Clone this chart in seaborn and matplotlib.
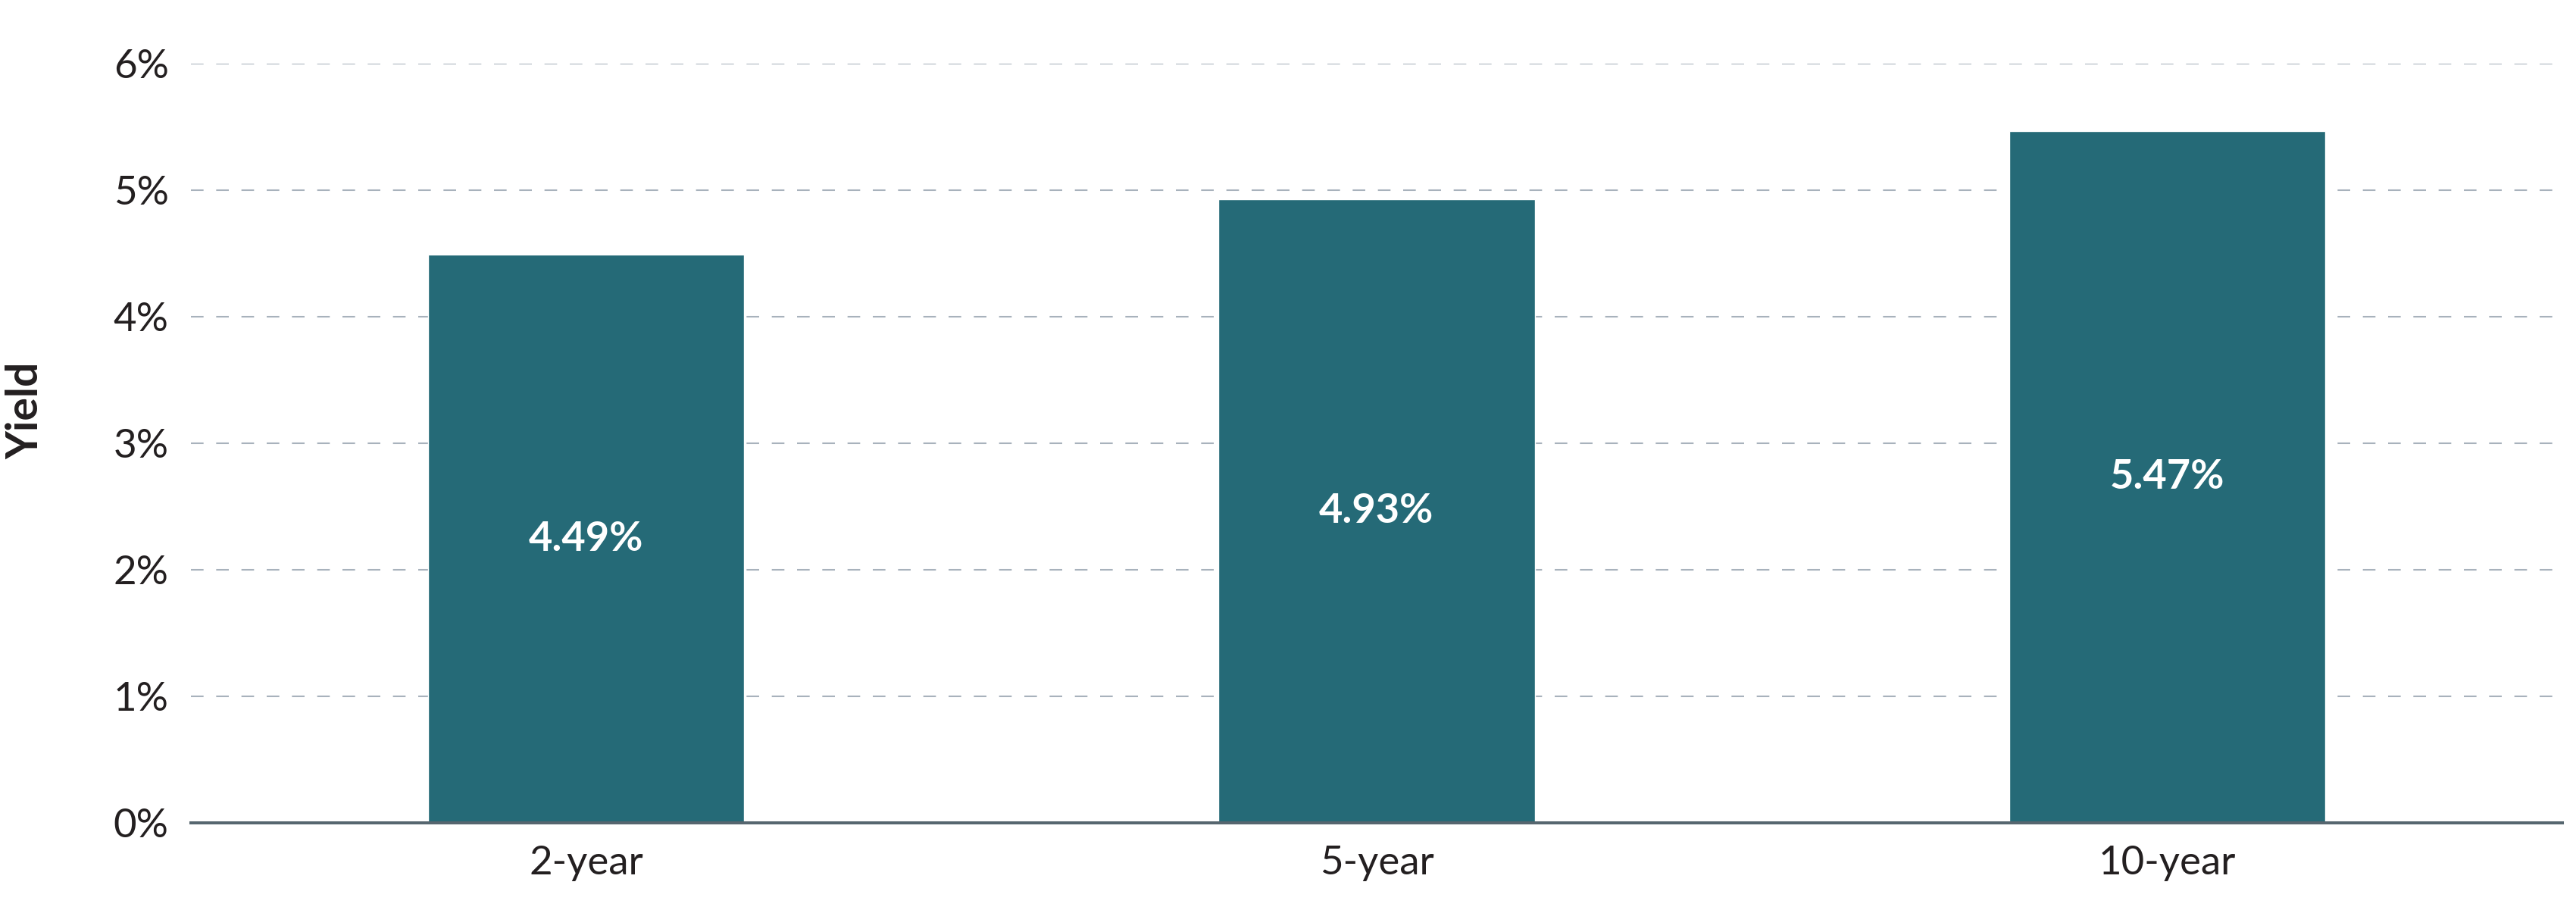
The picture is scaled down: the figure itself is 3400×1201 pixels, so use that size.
import matplotlib
matplotlib.use("Agg")
import matplotlib.pyplot as plt
import seaborn as sns
import pandas as pd

# data
terms = ["2-year", "5-year", "10-year"]
yields = [4.49, 4.93, 5.47]
y_ticks = [0, 1, 2, 3, 4, 5, 6]
y_tick_labels = ["0%", "1%", "2%", "3%", "4%", "5%", "6%"]

bar_color = "#256a77"
grid_color = "#a8b2bc"
text_color = "#231f20"
axis_color = "#56666f"

sns.set_style("white")
plt.rcParams["font.family"] = ["Lato", "DejaVu Sans"]

df = pd.DataFrame({"term": terms, "yield": yields})

fig = plt.figure(figsize=(34, 12.01), dpi=100)
ax = fig.add_axes([0.0741, 0.0958, 0.9206, 0.8342])

sns.barplot(data=df, x="term", y="yield", color=bar_color, saturation=1,
            width=0.4, ax=ax, zorder=3)

ax.bar_label(ax.containers[0], labels=[f"{v:.2f}%" for v in yields],
             label_type="center", color="white", fontsize=39,
             fontweight="bold")

ax.set_xlim(-0.5, 2.5)
ax.set_ylim(0, 6)
ax.set_yticks(y_ticks)
ax.set_yticklabels(y_tick_labels)

ax.grid(axis="y", color=grid_color, linewidth=1.5, linestyle=(0, (8, 8)), zorder=0)
ax.grid(axis="x", visible=False)
ax.set_axisbelow(True)

for side in ["left", "right", "top"]:
    ax.spines[side].set_visible(False)
ax.spines["bottom"].set_color(axis_color)
ax.spines["bottom"].set_linewidth(2.9)
ax.spines["bottom"].set_zorder(4)

ax.tick_params(axis="y", length=0, pad=21, labelsize=38, labelcolor=text_color)
ax.tick_params(axis="x", length=0, pad=22, labelsize=38, labelcolor=text_color)

ax.set_xlabel("")
ax.set_ylabel("Yield", fontsize=41, fontweight="bold", color=text_color)
ax.yaxis.set_label_coords(-0.0613, 0.543)

fig.savefig("out.png", dpi=100, facecolor="white")
